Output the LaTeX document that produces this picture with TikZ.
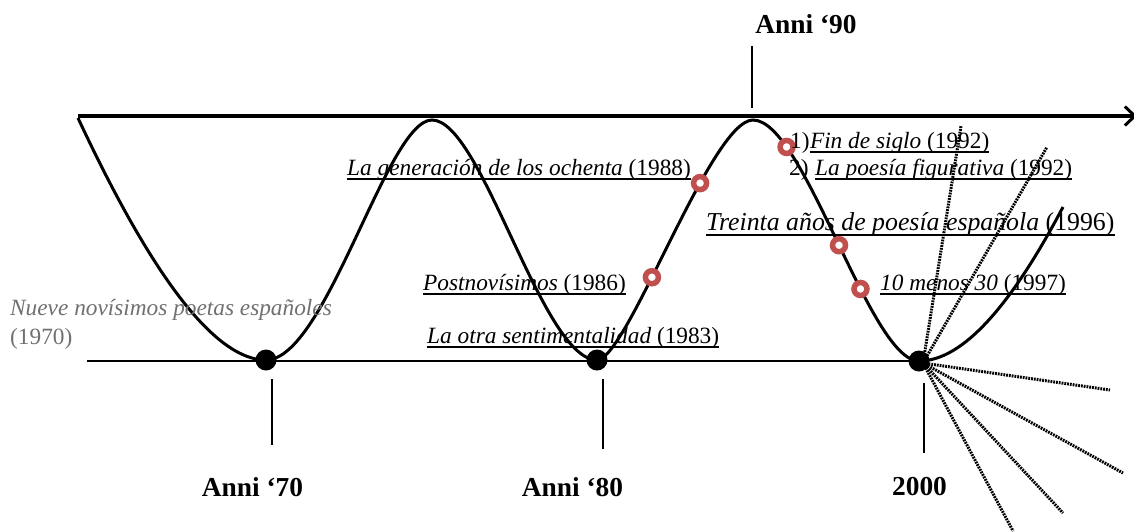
\documentclass[tikz,border=0pt]{standalone}
\usepackage{fontspec}
\setmainfont{Liberation Serif}
\usetikzlibrary{arrows.meta}
\definecolor{ringred}{RGB}{192,80,77}
\definecolor{softgray}{RGB}{112,112,112}
\tikzset{
  lbl/.style={anchor=base west, inner sep=0pt, font=\fontsize{23.3}{28}\selectfont},
  biglbl/.style={anchor=base west, inner sep=0pt, font=\fontsize{25.8}{30}\selectfont},
  decade/.style={anchor=base, inner sep=0pt, font=\fontsize{27.4}{32}\selectfont\bfseries},
  uline/.style={line width=1.9pt},
  wave/.style={line width=3pt},
  tick/.style={line width=2.7pt},
  ring/.style={circle, draw=ringred, line width=5.5pt, fill=white, minimum size=13pt, inner sep=0pt},
  bigdot/.style={circle, fill=black, minimum size=21pt, inner sep=0pt},
  ray/.style={line width=3pt, dash pattern=on 1.8pt off 1pt}
}
\begin{document}
\begin{tikzpicture}[x=1pt, y=-1pt]
\useasboundingbox (0,0) rectangle (1134,531);

% top axis
\coordinate (axA) at (78,116);
\coordinate (axB) at (1137,116);
\draw[line width=4pt, -{Straight Barb[length=10pt, width=19pt, line width=3pt]}] (axA) -- (axB);

% baseline
\coordinate (bl) at (87,361);
\coordinate (br) at (919,361);
\draw[line width=1.9pt] (bl) -- (br);

% rays from 2000
\coordinate (ro) at (923,363);
\coordinate (r1) at (961,126);
\coordinate (r2) at (1047,147);
\coordinate (r3) at (1110,390);
\coordinate (r4) at (1123,473);
\coordinate (r5) at (1063,513);
\coordinate (r6) at (1013,531);
\foreach \r in {r1,r2,r3,r4,r5,r6} \draw[ray] (ro) -- (\r);

% wave with the rings placed on it
\draw[wave] (78,118)
  .. controls (135,240) and (205,360) .. (266,360)
  .. controls (326,360) and (387,120) .. (432,120)
  .. controls (482,120) and (542,360) .. (597,360)
  .. controls (627,360) and (711,120) .. (753,120)
     node[ring, pos=0.395] (c86) {}
     node[ring, pos=0.664] (c88) {}
  .. controls (804.3,120) and (869.7,361) .. (919,361)
     node[ring, pos=0.208] (c92) {}
     node[ring, pos=0.513] (c96) {}
     node[ring, pos=0.6375] (c97) {}
  .. controls (964,361) and (1013,302) .. (1063,207);

% dots
\node[bigdot] (d70) at (266,360) {};
\node[bigdot] (d80) at (597,360) {};
\node[bigdot] (d00) at (919,361) {};

% ticks
\coordinate (t70a) at (272,379); \coordinate (t70b) at (272,445);
\coordinate (t80a) at (603,379); \coordinate (t80b) at (603,449);
\coordinate (t00a) at (924,383); \coordinate (t00b) at (924,453);
\coordinate (t90a) at (752,46);  \coordinate (t90b) at (752,108);
\draw[tick] (t70a) -- (t70b);
\draw[tick] (t80a) -- (t80b);
\draw[tick] (t00a) -- (t00b);
\draw[tick] (t90a) -- (t90b);

% decade labels
\node[decade] (a70) at (252.5,496) {Anni ‘70};
\node[decade] (a80) at (572.5,496) {Anni ‘80};
\node[decade] (a00) at (919.5,495) {2000};
\node[decade] (a90) at (806,33) {Anni ‘90};

% gray label
\node[lbl, text=softgray] (nn1) at (10,315) {\itshape Nueve novísimos poetas españoles};
\node[lbl, text=softgray] (nn2) at (10,344) {(1970)};

% underlined labels
\node[lbl] (l88) at (347,175) {\textit{La generación de los ochenta} (1988)};
\node[lbl] (l86) at (423,290) {\textit{Postnovísimos} (1986)};
\node[lbl] (l83) at (427,343) {\textit{La otra sentimentalidad} (1983)};
\node[lbl] (n1) at (790,148) {1)};
\node[lbl] (l92a) at (n1.base east) {\textit{Fin de siglo} (1992)};
\node[lbl] (n2) at (789,175) {2)};
\node[lbl] (l92b) at (815,175) {\textit{La poesía figurativa} (1992)};
\node[biglbl] (l96) at (706,230) {\textit{Treinta años de poesía española} (1996)};
\node[lbl] (l97) at (880,290) {\textit{10 menos 30} (1997)};

\foreach \n in {l88,l86,l83,l92a,l92b,l97}
  \draw[uline] ([yshift=-4pt]\n.base west) -- ([yshift=-4pt]\n.base east);
\draw[uline] ([yshift=-5pt]l96.base west) -- ([yshift=-5pt]l96.base east);
\end{tikzpicture}
\end{document}
